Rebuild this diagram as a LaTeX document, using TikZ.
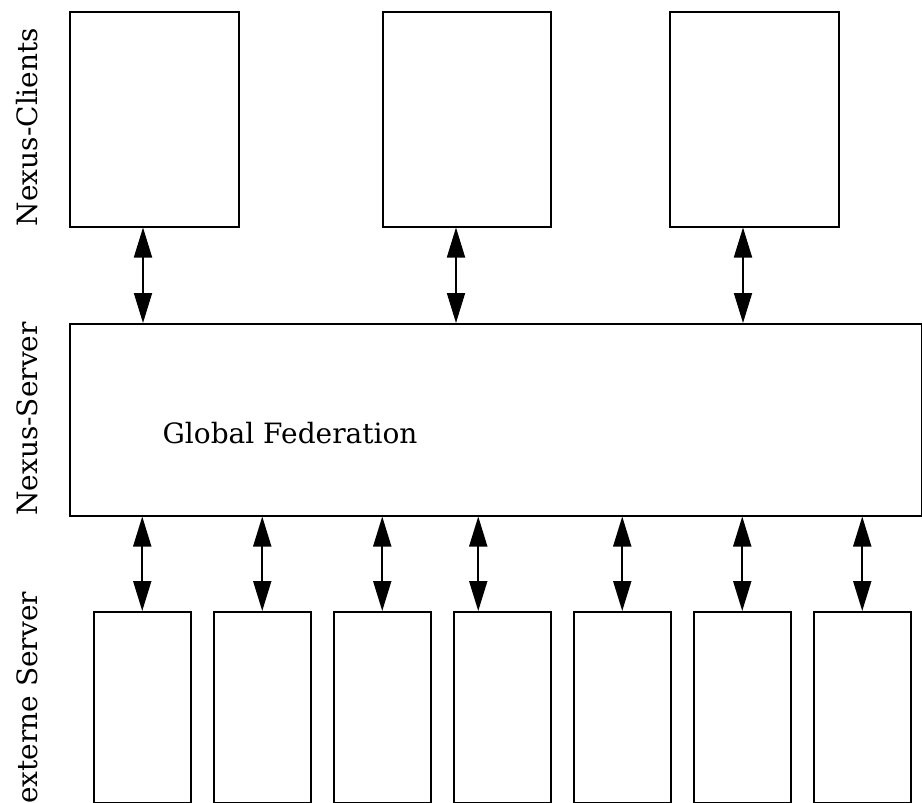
\documentclass[tikz,border=0pt]{standalone}
\usepackage{fontspec}
\setmainfont{DejaVu Serif}
\usetikzlibrary{arrows.meta}
\begin{document}
\begin{tikzpicture}[x=1pt,y=-1pt,
  box/.style={draw, line width=1.5pt, rectangle, inner sep=0pt, anchor=north west},
  link/.style={line width=1.8pt, {Triangle[length=30pt,width=18pt]}-{Triangle[length=30pt,width=18pt]}},
  bigtext/.style={font=\fontsize{28}{33}\selectfont},
  sidelabel/.style={bigtext, rotate=90, anchor=base}]
\useasboundingbox (0,0) rectangle (922,803);
% client tier
\node[box, minimum width=169pt, minimum height=215pt] (c1) at (69,11) {};
\node[box, minimum width=168pt, minimum height=215pt] (c2) at (382,11) {};
\node[box, minimum width=169pt, minimum height=215pt] (c3) at (669,11) {};
% server tier
\node[box, minimum width=852pt, minimum height=192pt] (srv) at (69,323) {};
\node[bigtext, anchor=base] (gf) at (290,443) {Global Federation};
% external servers
\foreach \i/\x in {1/93, 2/213, 3/333, 4/453, 5/573, 6/693, 7/813}
  \node[box, minimum width=97pt, minimum height=191pt] (e\i) at (\x,611) {};
% side labels
\node[sidelabel] (lc) at (37,127) {Nexus-Clients};
\node[sidelabel] (ls) at (37,419) {Nexus-Server};
\node[sidelabel] (le) at (37,698) {externe Server};
% client <-> server links
\foreach \i in {1,2,3}
  \draw[link] ([xshift=74pt]c\i.south west) -- ([xshift=74pt]c\i.south west |- srv.north);
% server <-> external links
\foreach \i in {1,2,3,5,6,7}
  \draw[link] (srv.south -| e\i.north) -- (e\i.north);
\coordinate (e4top) at ([xshift=-24pt]e4.north);
\draw[link] (srv.south -| e4top) -- (e4top);
\end{tikzpicture}
\end{document}
